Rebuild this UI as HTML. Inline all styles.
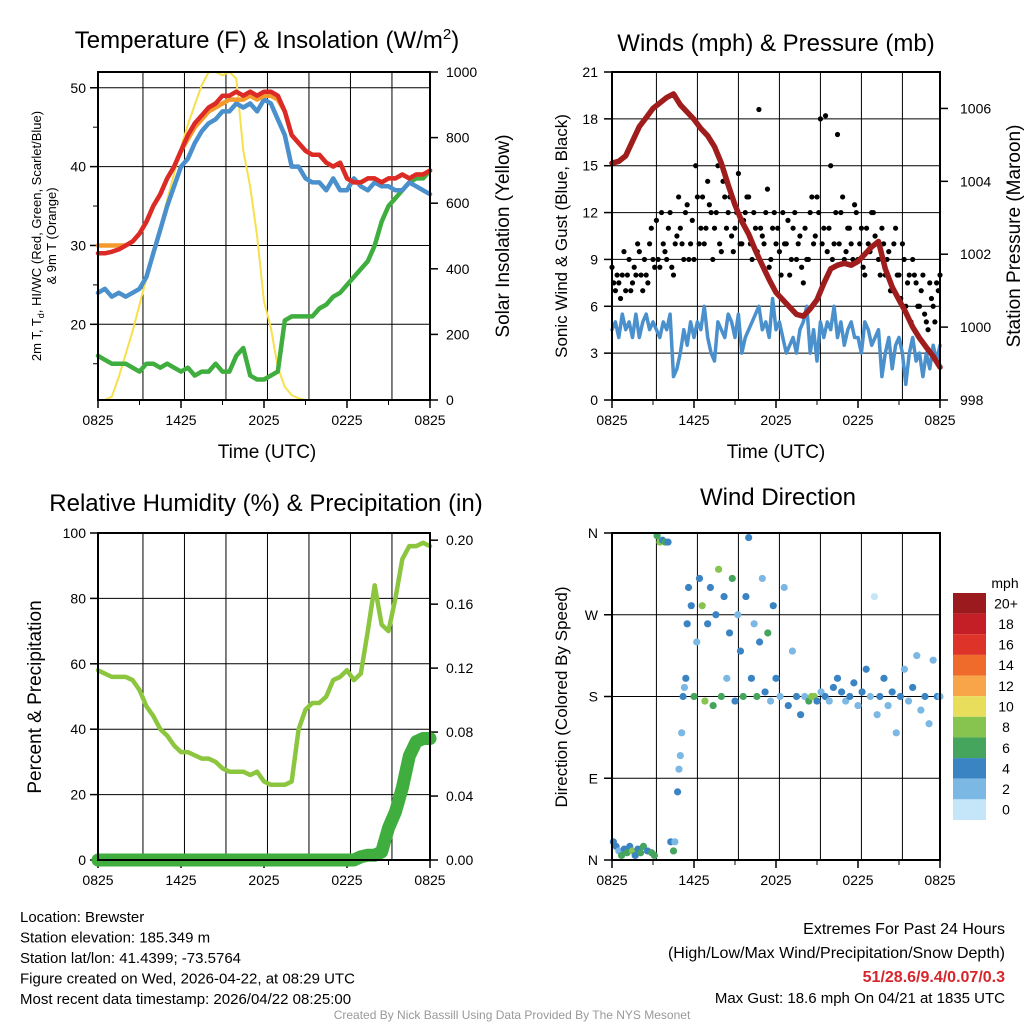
<!DOCTYPE html>
<html><head><meta charset="utf-8"><style>
body{margin:0;background:#fff;}
svg{display:block;font-family:"Liberation Sans",Arial,sans-serif;}
</style></head><body>
<svg id="s" width="1024" height="1024" viewBox="0 0 1024 1024" xmlns="http://www.w3.org/2000/svg"></svg>
<script>
// ---- Panel 1 data (0.5 h steps from 0825 UTC) ----
const tempRed=[29,29,29.2,29.5,30,30.5,31.5,33,35,36.5,38.5,40,42,44,45.5,46.5,47.5,48,49,49,49.5,49,49.5,49,49.5,49.5,49,47,44,43,42,41.5,41.5,40.5,40,40.5,38.5,38,38,38.5,38.5,38,38.5,38.5,39,38.5,39,39,39.5];
const tempOrange=[30,30,30,30,30,30.5,31.5,33,35,36.5,38.5,40,42,43.5,45,46,47,47.5,48,48.5,48.5,48.5,49,48.5,49,49,48.5,47,44,43,42,41.5,41.5,40.5,40,40.5,38.5,38,38,38.5,38.5,38,38.5,38.5,39,38.5,39,39,39.5];
const tempBlue=[24,24.5,23.5,24,23.5,24,24.5,26,29,32,35,37.5,40,41,43,44.5,45.5,46,47,47,48,47.5,48,47,48.5,48,46,44,40,40,38.5,38,38,37,38.5,37,37,38.5,37.5,37,38,37.5,37.5,37,37,38,37.5,37,36.5];
const dewGreen=[16,15.5,15,15,15,14.5,14,15,15,14.5,15,14.5,14,14.5,13.5,14,14,15,14,14,16,17,13.5,13,13,13.5,14,20.5,21,21,21,21,22,22.5,23.5,24,25,26,27,28,30,33,35,36,37,38,38.5,38.5,39.5];
const insolation=[0,0,10,70,140,210,290,370,450,530,610,690,770,840,900,960,1000,1000,990,1000,980,760,650,500,300,220,100,40,15,5,0,0,0,0,0,0,0,0,0,0,0,0,0,0,0,0,0,0,0];
// ---- Panel 2 data ----
const wind=[4.5,5,4,5.5,4.5,5,4,5.5,4,5,5.5,4.5,5,4.5,4,5,4.5,5.5,1.5,2,3,4.5,3.5,5,4,5,4.5,6,4,3,2.5,5,4.5,4,5.5,5,4,5.5,3,4,4.5,5,5.5,6,4.5,5,4,6.5,4.5,5,4,3,3.5,4,3,4.5,5,6,3,4.5,2.5,5,4,5,4.5,6,4,5,3.5,4.5,5,4,4,3,5,4.5,3.5,4,4.5,1.5,3,4,2,3.5,4,3,1,3,4,2.5,3,1.5,3,2,3.5,2.5,3.5];
const gustA=[8.5,7,7.5,8,7,9,7.5,8,9.5,7,8,10,9,11.5,8.5,10,9,12,8,10.5,11,9,12.5,10,9,13,11,10,14,12,11,15,9.5,13,12,10.5,11,14.5,10,12,13,9,11,18.6,10.5,12,8.5,11,10,9.5,12,10,8,11,9,10.5,7.5,9,12,10,13,18,11,9.5,15,10,17,12,9,11,10,12.5,9,11,8,10,12,10.5,9,11,8,9.5,7,11,8,10,6,8,9,7.5,6,8,5,7.5,6,7.5,8];
const gustB=[7.5,8,6.5,9.5,8,7,8.5,10,8,9,7.5,11,8.5,9,12,9.5,11,8.5,10,13,10,12,9,11.5,15,10,13,11,12.5,9,12,10,14,11,13,9.5,12,10,11.5,13,10,12,9.5,11,10,13.5,9,12,11,8,10,11.5,9,12,10,8.5,11,9,13,10.5,12,10,18.2,11,9,12,10,13,9.5,11,9,12,10,8.5,11,9.5,12,10,8,10,9,7,10,8,6.5,9,7.5,5,8,6,7,5.5,4.5,6.5,5,7];
const pressure=[1004.5,1004.55,1004.7,1005.1,1005.5,1005.75,1006,1006.15,1006.3,1006.4,1006.1,1005.9,1005.7,1005.45,1005.25,1004.95,1004.5,1003.9,1003.35,1002.9,1002.55,1002.1,1001.7,1001.3,1000.95,1000.75,1000.55,1000.35,1000.3,1000.5,1000.75,1001.2,1001.6,1001.7,1001.75,1001.7,1001.8,1002.0,1002.2,1002.35,1001.6,1001.1,1000.75,1000.4,1000,999.7,999.45,999.2,998.9];
// ---- Panel 3 data ----
const rh=[58,57,56,56,56,55,52,47,44,40,38,35,33,33,32,31,31,30,28,27,27,27,26,27,24,23,23,23,24,40,46,48,48,50,55,56,58,55,57,70,84,72,70,80,92,96,96,97,96];
const precip=[0,0,0,0,0,0,0,0,0,0,0,0,0,0,0,0,0,0,0,0,0,0,0,0,0,0,0,0,0,0,0,0,0,0,0,0,0,0,0.002,0.003,0.003,0.005,0.02,0.03,0.045,0.065,0.074,0.076,0.076];
// ---- Panel 4 data ----
const dirHours=[0.1,0.3,0.5,0.7,0.9,1.1,1.3,1.5,1.7,1.9,2.1,2.3,2.6,2.9,3.1,3.3,3.5,3.7,3.9,4.1,4.3,4.5,4.6,4.8,4.9,5.0,5.1,5.2,5.3,5.4,5.5,5.6,5.8,6.0,6.2,6.4,6.6,6.8,7.0,7.2,7.4,7.6,7.8,8.0,8.2,8.4,8.6,8.8,9.0,9.2,9.4,9.6,9.8,10.0,10.2,10.4,10.6,10.8,11.0,11.2,11.4,11.6,11.8,12.0,12.3,12.6,12.9,13.2,13.5,13.8,14.1,14.4,14.6,14.8,15.0,15.3,15.6,15.9,16.2,16.5,16.8,17.1,17.4,17.7,18.0,18.3,18.6,18.9,19.2,19.4,19.6,19.9,20.2,20.5,20.8,21.1,21.4,21.7,22.0,22.3,22.6,22.9,23.2,23.5,23.8,24.0];
const dirDeg=[20,15,10,5,12,8,15,10,5,12,8,15,10,8,5,357,350,352,350,350,20,10,20,75,100,115,140,180,190,200,260,300,280,180,240,310,280,175,260,300,170,270,320,180,290,200,250,310,175,270,230,180,290,355,200,260,180,240,310,185,250,175,280,200,180,300,170,230,180,160,180,175,180,180,175,185,180,175,190,200,185,175,180,195,170,185,210,180,290,160,180,200,170,185,140,180,210,175,190,225,165,180,150,220,180,180];
const dirSpd=[4,4,2,6,4,6,4,8,4,4,6,6,4,6,6,6,8,4,6,4,4,6,2,4,2,2,2,4,2,4,4,4,4,6,2,4,8,8,4,4,6,4,8,6,4,2,4,6,4,2,4,6,4,4,4,2,6,4,2,4,6,2,4,4,2,2,4,2,4,4,2,6,8,8,4,2,4,2,4,4,4,2,4,4,2,4,4,2,0,2,4,4,2,4,2,4,2,2,4,2,2,4,2,2,4,2];
const cbLabels=["20+","18","16","14","12","10","8","6","4","2","0"];
const cbColors=["#9b1a1d","#c41e26","#dd3328","#ef6b2b","#f8a54a","#e9de5c","#86c34f","#45a55d","#3b84c4","#7cb8e4","#c4e6f8"];
const xTickLabels=["0825","1425","2025","0225","0825"];

const NS="http://www.w3.org/2000/svg";
const svg=document.getElementById('s');
function mk(tag,attrs,parent){const e=document.createElementNS(NS,tag);for(const k in attrs)e.setAttribute(k,attrs[k]);(parent||svg).appendChild(e);return e;}
function txt(x,y,s,size,anchor,parent,extra){const t=mk('text',Object.assign({x:x,y:y,'font-size':size,'text-anchor':anchor||'middle'},extra||{}),parent);t.textContent=s;return t;}
function spdColor(s){let i=Math.round(s/2);if(i>10)i=10;return cbColors[10-i];}

function panel(name,x0,x1,y0,y1){
  const g=mk('g',{});
  
  
  const sx=h=>x0+h/24*(x1-x0);
  for(let h=3.25;h<24;h+=3){const l=mk('line',{x1:sx(h),x2:sx(h),y1:y0,y2:y1,stroke:'#000','stroke-width':1},g);}
  for(let i=0;i<5;i++){const h=i*6;
    mk('line',{x1:sx(h),x2:sx(h),y1:y1,y2:y1+8,stroke:'#000','stroke-width':1.5},g);
    const t=txt(sx(h),y1+25,xTickLabels[i],14,'middle',g);}
  for(let h=3;h<24;h+=6)mk('line',{x1:sx(h),x2:sx(h),y1:y1,y2:y1+5,stroke:'#000','stroke-width':1},g);
  return {g,sx};
}
function hline(g,x0,x1,y){const l=mk('line',{x1:x0,x2:x1,y1:y,y2:y,stroke:'#000','stroke-width':1},g);}
function frame(g,x0,x1,y0,y1){const r=mk('rect',{x:x0,y:y0,width:x1-x0,height:y1-y0,fill:'none',stroke:'#000','stroke-width':2},g);}
function line(g,arr,step,sx,sy,color,w,name){let d='';arr.forEach((v,i)=>{d+=(i?'L':'M')+sx(i*step).toFixed(1)+','+sy(v).toFixed(1);});const p=mk('path',{d:d,fill:'none',stroke:color,'stroke-width':w,'stroke-linejoin':'round','stroke-linecap':'round'},g);return p;}

// ===== Panel 1 =====
{const X0=98,X1=430,Y0=72,Y1=400;const {g,sx}=panel('temperature-panel',X0,X1,Y0,Y1);
 const sy=v=>Y1-(v-10.4)/(52-10.4)*(Y1-Y0);const sr=v=>Y1-v/1000*(Y1-Y0);
 [20,30,40,50].forEach(v=>{hline(g,X0,X1,sy(v));mk('line',{x1:X0-8,x2:X0,y1:sy(v),y2:sy(v),stroke:'#000','stroke-width':1.5},g);const t=txt(X0-12,sy(v)+5,String(v),14,'end',g);});
 [15,25,35,45].forEach(v=>mk('line',{x1:X0-5,x2:X0,y1:sy(v),y2:sy(v),stroke:'#000'},g));
 [0,200,400,600,800,1000].forEach(v=>{mk('line',{x1:X1,x2:X1+8,y1:sr(v),y2:sr(v),stroke:'#000','stroke-width':1.5},g);const t=txt(X1+16,sr(v)+5,String(v),14,'start',g);});
 line(g,insolation,0.5,sx,sr,'#f7e04b',2,'insolation-line');
 line(g,dewGreen,0.5,sx,sy,'#3fae3f',4.5,'dewpoint-line');
 line(g,tempBlue,0.5,sx,sy,'#4a90cc',4.5,'heat-index-wind-chill-line');
 line(g,tempOrange,0.5,sx,sy,'#f39a2d',4.5,'temp-9m-line');
 line(g,tempRed,0.5,sx,sy,'#dc2a27',4.5,'temp-2m-line');
 frame(g,X0,X1,Y0,Y1);
 let t=txt(267,48,'Temperature (F) & Insolation (W/m',24,'middle',g);const sup=mk('tspan',{dy:-9,'font-size':15},t);sup.textContent='2';const cl=mk('tspan',{dy:9},t);cl.textContent=')';
 t=txt(267,458,'Time (UTC)',19,'middle',g);
 t=txt(0,0,'2m T, T',13,'middle',g,{transform:'translate(41,236) rotate(-90)'});const sub=mk('tspan',{dy:3,'font-size':9},t);sub.textContent='d';const r=mk('tspan',{dy:-3},t);r.textContent=', HI/WC (Red, Green, Scarlet/Blue)';
 t=txt(0,0,'& 9m T (Orange)',13,'middle',g,{transform:'translate(56,236) rotate(-90)'});
 t=txt(0,0,'Solar Insolation (Yellow)',19,'middle',g,{transform:'translate(509,236) rotate(-90)'});
}
// ===== Panel 2 =====
{const X0=612,X1=940,Y0=72,Y1=400;const {g,sx}=panel('winds-pressure-panel',X0,X1,Y0,Y1);
 const sy=v=>Y1-v/21*(Y1-Y0);const sp=v=>Y1-(v-998)/(1007.0-998)*(Y1-Y0);
 [0,3,6,9,12,15,18,21].forEach(v=>{if(v>0&&v<21)hline(g,X0,X1,sy(v));mk('line',{x1:X0-8,x2:X0,y1:sy(v),y2:sy(v),stroke:'#000','stroke-width':1.5},g);const t=txt(X0-14,sy(v)+5,String(v),14,'end',g);});
 [998,1000,1002,1004,1006].forEach(v=>{mk('line',{x1:X1,x2:X1+8,y1:sp(v),y2:sp(v),stroke:'#000','stroke-width':1.5},g);const t=txt(X1+20,sp(v)+5,String(v),14,'start',g);});
 line(g,wind,0.25,sx,sy,'#4a90cc',3.5,'sonic-wind-line');
 gustA.forEach((v,i)=>{const c=mk('circle',{cx:sx(i*0.25),cy:sy(v),r:2.6,fill:'#000'},g);});
 gustB.forEach((v,i)=>{const c=mk('circle',{cx:sx(i*0.25+0.125),cy:sy(v),r:2.6,fill:'#000'},g);});
 line(g,pressure,0.5,sx,sp,'#a01d1d',5.5,'pressure-line');
 frame(g,X0,X1,Y0,Y1);
 let t=txt(776,51,'Winds (mph) & Pressure (mb)',24,'middle',g);
 t=txt(776,458,'Time (UTC)',19,'middle',g);
 t=txt(0,0,'Sonic Wind & Gust (Blue, Black)',17,'middle',g,{transform:'translate(567,236) rotate(-90)'});
 t=txt(0,0,'Station Pressure (Maroon)',19,'middle',g,{transform:'translate(1020,236) rotate(-90)'});
}
// ===== Panel 3 =====
{const X0=98,X1=430,Y0=533,Y1=860;const {g,sx}=panel('humidity-precip-panel',X0,X1,Y0,Y1);
 const sy=v=>Y1-v/100*(Y1-Y0);const sq=v=>Y1-v/0.2045*(Y1-Y0);
 [0,20,40,60,80,100].forEach(v=>{if(v>0&&v<100)hline(g,X0,X1,sy(v));mk('line',{x1:X0-8,x2:X0,y1:sy(v),y2:sy(v),stroke:'#000','stroke-width':1.5},g);const t=txt(X0-12,sy(v)+5,String(v),14,'end',g);});
 ['0.00','0.04','0.08','0.12','0.16','0.20'].forEach(s=>{const v=parseFloat(s);mk('line',{x1:X1,x2:X1+8,y1:sq(v),y2:sq(v),stroke:'#000','stroke-width':1.5},g);const t=txt(X1+16,sq(v)+5,s,14,'start',g);});
 line(g,rh,0.5,sx,sy,'#8cc63f',4.5,'relative-humidity-line');
 line(g,precip,0.5,sx,sq,'#3fae3f',13,'precipitation-line');
 frame(g,X0,X1,Y0,Y1);
 let t=txt(266,511,'Relative Humidity (%) & Precipitation (in)',24,'middle',g);
 t=txt(0,0,'Percent & Precipitation',19,'middle',g,{transform:'translate(41,697) rotate(-90)'});
}
// ===== Panel 4 =====
{const X0=612,X1=940,Y0=533,Y1=860;const {g,sx}=panel('wind-direction-panel',X0,X1,Y0,Y1);
 const sy=v=>Y1-v/360*(Y1-Y0);
 [['N',0],['E',90],['S',180],['W',270],['N',360]].forEach(([s,v])=>{if(v>0&&v<360)hline(g,X0,X1,sy(v));mk('line',{x1:X0-8,x2:X0,y1:sy(v),y2:sy(v),stroke:'#000','stroke-width':1.5},g);const t=txt(X0-14,sy(v)+5,s,14,'end',g);});
 dirHours.forEach((h,i)=>{const c=mk('circle',{cx:sx(h),cy:sy(dirDeg[i]),r:3.6,fill:spdColor(dirSpd[i])},g);});
 frame(g,X0,X1,Y0,Y1);
 let t=txt(778,505,'Wind Direction',24,'middle',g);
 t=txt(0,0,'Direction (Colored By Speed)',17,'middle',g,{transform:'translate(567,697) rotate(-90)'});
 const cb=mk('g',{},g);
 t=txt(1005,588,'mph',14,'middle',cb);
 const bh=(820-593)/10;
 cbColors.forEach((c,i)=>{const r=mk('rect',{x:953,y:593+i*bh*10/11,width:33,height:bh*10/11,fill:c},cb);
   const l=txt(1006,593+i*bh*10/11+bh*5/11+5,cbLabels[i],14,'middle',cb);});
}
// ===== Footer =====
{const g=mk('g',{});
 const left=['Location: Brewster','Station elevation: 185.349 m','Station lat/lon: 41.4399; -73.5764','Figure created on Wed, 2026-04-22, at 08:29 UTC','Most recent data timestamp: 2026/04/22 08:25:00'];
 left.forEach((s,i)=>{const t=txt(20,922+i*20.5,s,15,'start',g);});
 let t=txt(1005,934,'Extremes For Past 24 Hours',16,'end',g);
 t=txt(1005,958,'(High/Low/Max Wind/Precipitation/Snow Depth)',16,'end',g);
 t=txt(1005,982,'51/28.6/9.4/0.07/0.3',16,'end',g,{fill:'#d7262b','font-weight':'bold'});
 t=txt(1005,1003,'Max Gust: 18.6 mph On 04/21 at 1835 UTC',15,'end',g);
 t=txt(512,1019,'Created By Nick Bassill Using Data Provided By The NYS Mesonet',12,'middle',g,{fill:'#999'});
}
</script>
</body></html>
